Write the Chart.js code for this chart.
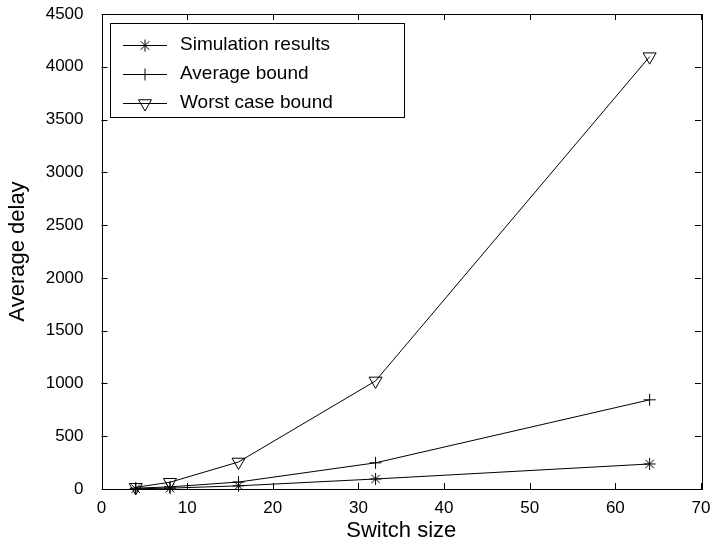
<!DOCTYPE html>
<html>
<head>
<meta charset="utf-8">
<script src="https://cdn.jsdelivr.net/npm/chart.js@4/dist/chart.umd.min.js"></script>
<style>
  html, body { margin: 0; padding: 0; background: #fff; }
  #wrap { width: 716px; height: 544px; }
</style>
</head>
<body>
<div id="wrap"><canvas id="delayChart" width="716" height="544"></canvas></div>
<script>
// switch sizes and measured delays
const switchSizes = [4, 8, 16, 32, 64];
const simulationResults = [2, 8, 30, 95, 237];
const averageBound = [8, 20, 66, 248, 845];
const worstCaseBound = [16, 64, 256, 1024, 4096];

const seriesLabels = ['Simulation results', 'Average bound', 'Worst case bound'];
const xTicks = [0, 10, 20, 30, 40, 50, 60, 70];
const yTicks = [0, 500, 1000, 1500, 2000, 2500, 3000, 3500, 4000, 4500];

const FONT = 'Liberation Sans, Arial, Helvetica, sans-serif';

function toPoints(ys){ return switchSizes.map((x, i) => ({x: x, y: ys[i]})); }

function series(label, ys, style, radius, rot){
    return {
        label: label, data: toPoints(ys),
        borderColor: '#000', borderWidth: 1, backgroundColor: 'rgba(0,0,0,0)',
        pointStyle: style, pointRadius: radius, pointRotation: rot || 0,
        pointBorderColor: '#000', pointBackgroundColor: 'rgba(0,0,0,0)', pointBorderWidth: 1,
        pointHoverRadius: radius, tension: 0, fill: false, clip: false
    };
}

// box frame with inward tick marks on all four sides
const frameTicks = {
    id: 'frameTicks',
    afterDatasetsDraw(chart){
        const {ctx, chartArea: a, scales: {x, y}} = chart;
        const len = 6;
        ctx.save();
        ctx.strokeStyle = '#000';
        ctx.lineWidth = 1;
        ctx.beginPath();
        xTicks.forEach(v => {
            const px = Math.round(x.getPixelForValue(v)) + 0.5;
            ctx.moveTo(px, a.bottom); ctx.lineTo(px, a.bottom - len);
            ctx.moveTo(px, a.top); ctx.lineTo(px, a.top + len);
        });
        yTicks.forEach(v => {
            const py = Math.round(y.getPixelForValue(v)) + 0.5;
            ctx.moveTo(a.left, py); ctx.lineTo(a.left + len, py);
            ctx.moveTo(a.right, py); ctx.lineTo(a.right - len, py);
        });
        ctx.stroke();
        ctx.strokeRect(Math.round(a.left) + 0.5, Math.round(a.top) + 0.5,
            Math.round(a.right - a.left), Math.round(a.bottom - a.top));
        ctx.restore();
    }
};

// legend box: line sample with hollow marker, then label
const boxLegend = {
    id: 'boxLegend',
    afterDraw(chart){
        const {ctx} = chart;
        const bx = 110.5, by = 23.5, bw = 294, bh = 94;
        ctx.save();
        ctx.fillStyle = '#fff';
        ctx.fillRect(bx, by, bw, bh);
        ctx.strokeStyle = '#000';
        ctx.lineWidth = 1;
        ctx.strokeRect(bx, by, bw, bh);
        ctx.font = '19px ' + FONT;
        ctx.textBaseline = 'middle';
        chart.data.datasets.forEach((ds, i) => {
            const ry = 45 + i * 29;
            ctx.strokeStyle = '#000';
            ctx.beginPath();
            ctx.moveTo(123, ry + 0.5); ctx.lineTo(167, ry + 0.5);
            ctx.stroke();
            ctx.fillStyle = 'rgba(0,0,0,0)';
            Chart.helpers.drawPoint(ctx, {
                pointStyle: ds.pointStyle, radius: ds.pointRadius, rotation: ds.pointRotation,
                borderWidth: 1
            }, 145, ry + 0.5);
            ctx.fillStyle = '#000';
            ctx.fillText(ds.label, 180, ry);
        });
        ctx.restore();
    }
};

new Chart(document.getElementById('delayChart'), {
    type: 'line',
    data: {
        datasets: [
            series(seriesLabels[0], simulationResults, 'star', 6),
            series(seriesLabels[1], averageBound, 'cross', 6),
            series(seriesLabels[2], worstCaseBound, 'triangle', 7.5, 180)
        ]
    },
    options: {
        responsive: false,
        animation: false,
        events: [],
        layout: {padding: {top: 14, right: 15, left: 0, bottom: 0}},
        plugins: {legend: {display: false}, tooltip: {enabled: false}},
        scales: {
            x: {
                type: 'linear', min: 0, max: 70,
                afterBuildTicks: s => { s.ticks = xTicks.map(v => ({value: v})); },
                afterFit: s => { s.height = 55; s.paddingLeft = 0; s.paddingRight = 0; },
                grid: {display: false, drawTicks: false},
                border: {display: false},
                ticks: {color: '#000', padding: 9, font: {family: FONT, size: 17},
                        callback: v => String(v)},
                title: {display: true, text: 'Switch size', color: '#000',
                        font: {family: FONT, size: 22}, padding: {top: 0, bottom: 0}}
            },
            y: {
                type: 'linear', min: 0, max: 4500,
                afterBuildTicks: s => { s.ticks = yTicks.map(v => ({value: v})); },
                afterFit: s => { s.width = 101.5; s.paddingTop = 0; s.paddingBottom = 0; },
                grid: {display: false, drawTicks: false},
                border: {display: false},
                ticks: {color: '#000', padding: 18, font: {family: FONT, size: 17},
                        callback: v => String(v)},
                title: {display: true, text: 'Average delay', color: '#000',
                        font: {family: FONT, size: 22}, padding: {top: 5, bottom: 0}}
            }
        }
    },
    plugins: [frameTicks, boxLegend]
});
</script>
</body>
</html>
